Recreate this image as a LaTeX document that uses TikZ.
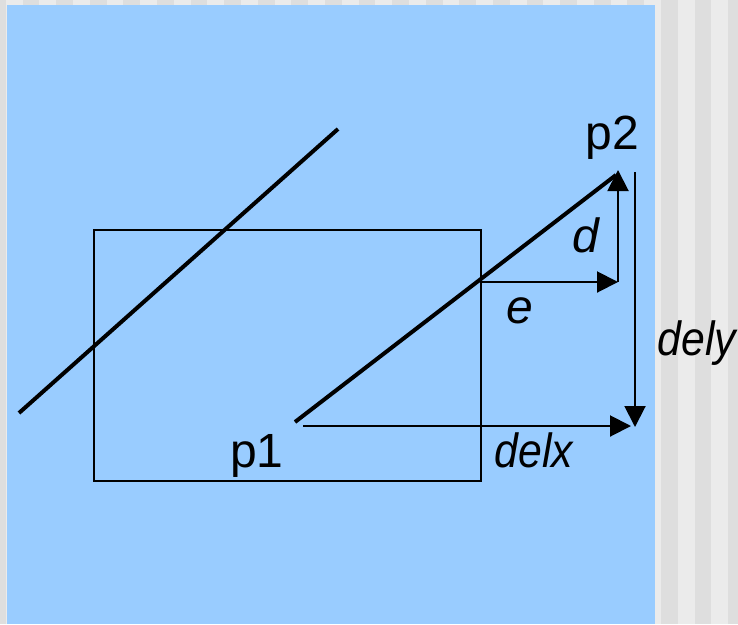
\documentclass[tikz,border=0pt]{standalone}
\usepackage{fontspec}
\usepackage{graphicx}
\setmainfont{Liberation Sans}
\usetikzlibrary{arrows.meta}
\definecolor{panel}{HTML}{99CCFF}
\definecolor{stripeA}{HTML}{EBEBEB}
\definecolor{stripeB}{HTML}{DEDEDE}
\begin{document}
\begin{tikzpicture}[x=1pt,y=-1pt,
  thinline/.style={line width=2pt},
  thickline/.style={line width=4pt},
  arr/.style={thinline,-{Triangle[length=21pt,width=21pt]}},
  lbl/.style={inner sep=0pt,anchor=base,font=\fontsize{48}{56}\selectfont},
  ilbl/.style={inner sep=0pt,anchor=base,font=\fontsize{48}{56}\selectfont\itshape}]
\useasboundingbox (0,0) rectangle (738,624);
\fill[stripeA] (0,0) rectangle (738,624);
\foreach \k in {-1,...,21} \fill[stripeB] ({22.6+33.6*\k},0) rectangle ({39.4+33.6*\k},624);
\fill[panel] (7,5) rectangle (655,624);

% rectangle
\node[draw,thinline,inner sep=0pt,outer sep=0pt,minimum width=387pt,minimum height=251pt,anchor=north west] (box) at (94,230) {};

% points
\coordinate (L1) at (19,413);
\coordinate (L2) at (338,129);
\coordinate (P1) at (295,422);
\coordinate (P2) at (616,175);
\coordinate (E0) at (481,282);
\coordinate (E1) at (618,282);
\coordinate (D1) at (618,170);
\coordinate (Y0) at (635,172);
\coordinate (Y1) at (635,427);
\coordinate (X0) at (303,426);
\coordinate (X1) at (631,426);

% lines
\draw[thickline] (L1) -- (L2);
\draw[thickline] (P1) -- (P2);
\draw[arr] (E0) -- (E1);
\draw[arr] (E1) -- (D1);
\draw[arr] (Y0) -- (Y1);
\draw[arr] (X0) -- (X1);

% labels
\node[lbl] (p2) at (612,149) {p2};
\node[lbl] (p1) at (257,467) {p1};
\node[ilbl] (d) at (586,252) {d};
\node[ilbl] (e) at (520,323) {e};
\node[ilbl] (dely) at (697,355) {\scalebox{0.89}[1]{dely}};
\node[ilbl] (delx) at (534,467) {\scalebox{0.89}[1]{delx}};
\end{tikzpicture}
\end{document}
